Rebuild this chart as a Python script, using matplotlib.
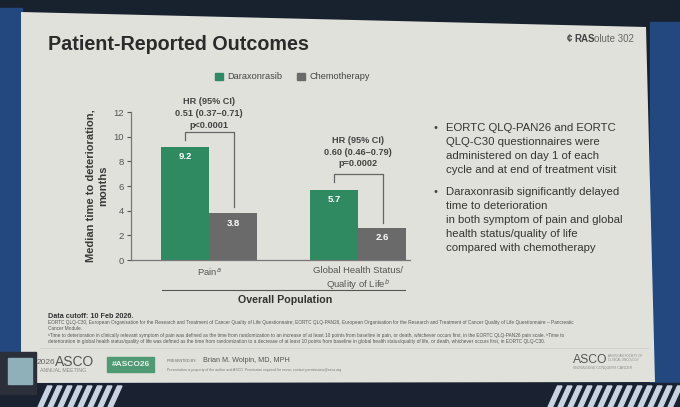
import matplotlib
matplotlib.use("Agg")
import matplotlib.pyplot as plt
from matplotlib.patches import Polygon, Rectangle

plt.rcParams['font.family'] = ['Liberation Sans', 'DejaVu Sans']

# ---- data ----
categories = ["Pain$^{a}$", "Global Health Status/\nQuality of Life$^{b}$"]
series_names = ["Daraxonrasib", "Chemotherapy"]
daraxonrasib = [9.2, 5.7]
chemotherapy = [3.8, 2.6]
hr_texts = ["HR (95% CI)\n0.51 (0.37\u20130.71)\np<0.0001",
            "HR (95% CI)\n0.60 (0.46\u20130.79)\np=0.0002"]
yticks = [0, 2, 4, 6, 8, 10, 12]
bullet1 = ["EORTC QLQ-PAN26 and EORTC", "QLQ-C30 questionnaires were",
           "administered on day 1 of each", "cycle and at end of treatment visit"]
bullet2 = ["Daraxonrasib significantly delayed", "time to deterioration",
           "in both symptom of pain and global", "health status/quality of life",
           "compared with chemotherapy"]
footnotes = [
    "EORTC QLQ-C30, European Organisation for the Research and Treatment of Cancer Quality of Life Questionnaire; EORTC QLQ-PAN26, European Organisation for the Research and Treatment of Cancer Quality of Life Questionnaire \u2013 Pancreatic",
    "Cancer Module.",
    "\u1d43Time to deterioration in clinically relevant symptom of pain was defined as the time from randomization to an increase of at least 10 points from baseline in pain, or death, whichever occurs first, in the EORTC QLQ-PAN26 pain scale. \u1d47Time to",
    "deterioration in global health status/quality of life was defined as the time from randomization to a decrease of at least 10 points from baseline in global health status/quality of life, or death, whichever occurs first, in EORTC QLQ-C30.",
]

GREEN = "#2f8a62"
GREY = "#6a6a6a"
SLIDE = "#e1e1db"
TXT = "#353535"

W, H = 680, 407
fig = plt.figure(figsize=(W / 100, H / 100), dpi=100)
fig.patch.set_facecolor("#18212e")

bg = fig.add_axes([0, 0, 1, 1])
bg.set_xlim(0, W)
bg.set_ylim(H, 0)
bg.axis("off")

# screen surroundings
bg.add_patch(Rectangle((0, 8), 22, 380, color="#22487f", zorder=0))
bg.add_patch(Rectangle((650, 22), 30, 362, color="#22487f", zorder=0))
bg.add_patch(Rectangle((0, 383), W, 24, color="#1a2130", zorder=0))
for i in range(8):
    x0 = 38 + i * 10
    bg.add_patch(Polygon([[x0, 407], [x0 + 4.5, 407], [x0 + 14, 386], [x0 + 9.5, 386]],
                         color="#c9d3e2", zorder=0))
for i in range(13):
    x0 = 548 + i * 10
    bg.add_patch(Polygon([[x0, 407], [x0 + 4.5, 407], [x0 + 14, 386], [x0 + 9.5, 386]],
                         color="#c9d3e2", zorder=0))

# slide
bg.add_patch(Polygon([[21, 12], [646, 27], [655, 382], [21, 383]],
                     closed=True, facecolor=SLIDE, edgecolor="none", zorder=1))

bg.text(48, 44, "Patient-Reported Outcomes", fontsize=14.2, fontweight="bold",
        color="#2b2b2b", va="center", ha="left", zorder=3)
bg.text(567, 39, "\u00a2", fontsize=7, fontweight="bold", color="#444", va="center", zorder=3)
bg.text(574, 39, "RAS", fontsize=7, fontweight="bold", color="#444", va="center", zorder=3)
bg.text(594, 39, "olute 302", fontsize=7, color="#666", va="center", zorder=3)

# legend
bg.add_patch(Rectangle((215, 72.5), 8, 7, color=GREEN, zorder=3))
bg.text(227, 76.5, series_names[0], fontsize=6.6, color="#444", va="center", zorder=3)
bg.add_patch(Rectangle((297, 72.5), 8, 7, color=GREY, zorder=3))
bg.text(309, 76.5, series_names[1], fontsize=6.6, color="#444", va="center", zorder=3)

# ---- chart ----
ax_left, ax_right = 131, 410
ax_bot, ax_top = 260, 112
ax = fig.add_axes([ax_left / W, (H - ax_bot) / H, (ax_right - ax_left) / W,
                   (ax_bot - ax_top) / H])
ax.set_facecolor("none")
ax.set_zorder(3)
x = [0, 1]
bw = 0.322
ax.bar([xi - bw / 2 for xi in x], daraxonrasib, width=bw, color=GREEN, zorder=2)
ax.bar([xi + bw / 2 for xi in x], chemotherapy, width=bw, color=GREY, zorder=2)
for xi, v in zip(x, daraxonrasib):
    ax.text(xi - bw / 2, v - 0.8, f"{v}", ha="center", va="center", color="white",
            fontsize=6.8, fontweight="bold")
for xi, v in zip(x, chemotherapy):
    ax.text(xi + bw / 2, v - 0.8, f"{v}", ha="center", va="center", color="white",
            fontsize=6.8, fontweight="bold")

ax.set_xlim(-0.523, 1.35)
ax.set_ylim(0, 12)
ax.set_yticks(yticks)
ax.tick_params(axis="y", labelsize=6.8, colors="#555", length=3, width=0.8, pad=2)
ax.tick_params(axis="x", length=0, labelsize=6.8, colors="#555", pad=4)
ax.set_xticks(x)
ax.set_xticklabels(categories, linespacing=1.25)
for s in ["top", "right"]:
    ax.spines[s].set_visible(False)
for s in ["left", "bottom"]:
    ax.spines[s].set_color("#777")
    ax.spines[s].set_linewidth(0.9)
ax.set_ylabel("Median time to deterioration,\nmonths", fontsize=8, fontweight="bold",
              color="#3a3a3a", labelpad=4, linespacing=1.35)

# HR brackets
brackets = [(-0.16, 0.17, 10.4, 9.75, 4.3), (0.84, 1.17, 7.0, 6.3, 3.0)]
text_y = [11.9, 8.75]
for (xl, xr, yh, yl, yr), t, ty, xi in zip(brackets, hr_texts, text_y, x):
    ax.plot([xl, xl, xr, xr], [yl, yh, yh, yr], color="#666", lw=0.9, clip_on=False)
    ax.text(xi, ty, t, ha="center", va="center", fontsize=6.6, fontweight="bold",
            color="#444", linespacing=1.4, clip_on=False)

# overall population
bg.plot([162, 405], [290, 290], color="#555", lw=0.8, zorder=3)
bg.text(285, 300, "Overall Population", fontsize=7.7, fontweight="bold", color="#333",
        ha="center", va="center", zorder=3)

# bullets
for lines, y0 in [(bullet1, 128), (bullet2, 192)]:
    bg.text(433, y0, "\u2022", fontsize=8, color="#444", va="center", zorder=3)
    for k, ln in enumerate(lines):
        bg.text(446, y0 + k * 13.9, ln, fontsize=8.2, color=TXT, va="center", zorder=3)

# footnotes
bg.text(48, 316.5, "Data cutoff: 10 Feb 2026.", fontsize=5.2, fontweight="bold", color="#333",
        va="center", zorder=3)
for ln, yy in zip(footnotes, [322.5, 328, 335, 341]):
    bg.text(48, yy, ln, fontsize=3.4, color="#555", va="center", zorder=3,
            family=['Liberation Sans', 'DejaVu Sans'])
bg.plot([40, 648], [348, 348], color="#cfcfca", lw=0.6, zorder=3)

# footer bar
bg.text(37, 362, "2026", fontsize=6, color="#666", va="center", zorder=3)
bg.text(55, 362, "ASCO", fontsize=10, color="#555", va="center", zorder=3)
bg.text(40, 371, "ANNUAL MEETING", fontsize=3.8, color="#888", va="center", zorder=3)
bg.add_patch(Rectangle((107, 357), 47, 15, color="#4f9a74", zorder=3))
bg.text(130.5, 364.5, "#ASCO26", fontsize=6, fontweight="bold", color="#e8f2ec",
        ha="center", va="center", zorder=4)
bg.text(167, 361, "PRESENTED BY:", fontsize=2.7, color="#666", va="center", zorder=3)
bg.text(203, 360, "Brian M. Wolpin, MD, MPH", fontsize=5.2, color="#555", va="center", zorder=3)
bg.text(167, 370, "Presentation is property of the author and ASCO. Permission required for reuse; contact permissions@asco.org",
        fontsize=2.5, color="#777", va="center", zorder=3)
bg.text(573, 360, "ASCO", fontsize=8.7, color="#555", va="center", zorder=3)
bg.text(608, 358, "AMERICAN SOCIETY OF\nCLINICAL ONCOLOGY", fontsize=2.2, color="#888",
        va="center", zorder=3, linespacing=1.1)
bg.text(573, 368, "KNOWLEDGE CONQUERS CANCER", fontsize=2.5, color="#888", va="center", zorder=3)

# speaker inset
bg.add_patch(Rectangle((0, 352), 36, 42, color="#2a2f3a", zorder=4))
bg.add_patch(Rectangle((8, 358), 24, 26, color="#8fb0b8", zorder=5))

fig.savefig("out.png", dpi=100, facecolor=fig.get_facecolor())
